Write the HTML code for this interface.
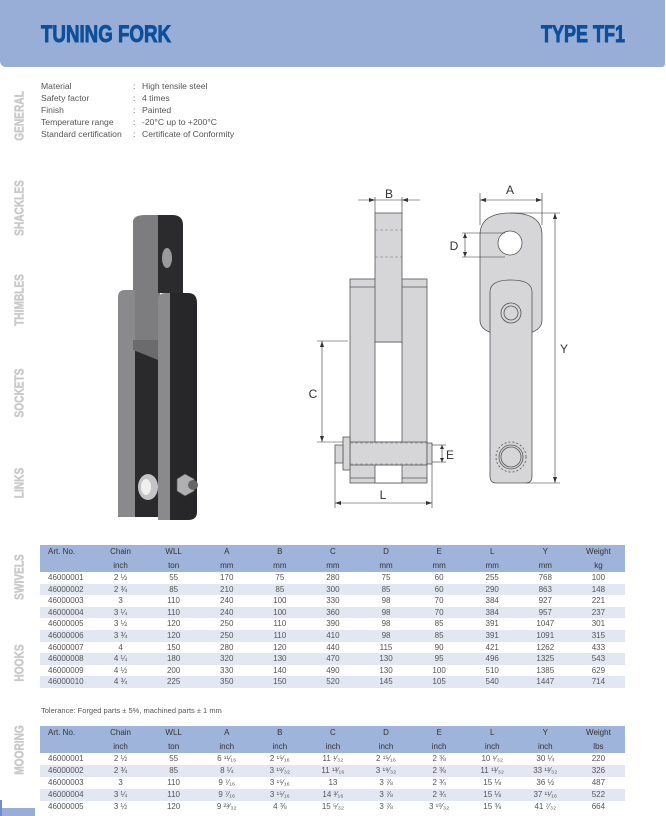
<!DOCTYPE html>
<html><head><meta charset="utf-8"><style>
*{margin:0;padding:0;box-sizing:border-box}
body{width:666px;height:816px;overflow:hidden;background:#fff;font-family:"Liberation Sans",sans-serif;position:relative;color:#444}
.hdr{position:absolute;left:0;top:0;width:665px;height:67px;background:#98aed7;border-bottom-left-radius:6px;border-bottom-right-radius:3px}
.t1{position:absolute;font-family:"Liberation Sans",sans-serif;font-weight:bold;color:#0d4f9a;font-size:24px;transform-origin:left top;-webkit-text-stroke:0.9px #0d4f9a;white-space:nowrap}
.side{position:absolute;left:19px;font-family:"Liberation Sans",sans-serif;font-weight:bold;color:#c9c9c9;font-size:13px;transform:translate(-50%,-50%) rotate(-90deg) scaleX(0.78);white-space:nowrap;-webkit-text-stroke:0.5px #c9c9c9}
.spec{position:absolute;left:41px;top:80px;font-size:8.6px;line-height:12px;color:#555}
.spec div{position:relative;height:12px;width:300px}
.spec span{position:absolute;white-space:nowrap}
table{position:absolute;left:40px;width:585px;border-collapse:collapse;font-size:8px;color:#555;table-layout:fixed}
th{background:#9fb4db;color:#333;font-weight:normal;height:13.5px;line-height:13.5px;text-align:center;padding:0}
td{text-align:center;padding:0;line-height:11.6px;height:11.6px}
td:first-child,th:first-child{text-align:left;padding-left:8px}
tr.a td{background:#e2e7f3}
.t2 td{line-height:12px;height:12px}
</style></head><body>
<div class="hdr"></div>
<div class="t1" style="left:41px;top:21px;transform:scaleX(0.78)">TUNING FORK</div>
<div class="t1" style="left:541px;top:21px;transform:scaleX(0.75)">TYPE TF1</div>

<div class="side" style="top:116px">GENERAL</div>
<div class="side" style="top:208px">SHACKLES</div>
<div class="side" style="top:300px">THIMBLES</div>
<div class="side" style="top:393px">SOCKETS</div>
<div class="side" style="top:483px">LINKS</div>
<div class="side" style="top:577px">SWIVELS</div>
<div class="side" style="top:663px">HOOKS</div>
<div class="side" style="top:750px">MOORING</div>
<div style="position:absolute;left:0;top:808px;width:35px;height:8px;background:#98aed7"></div>
<div style="position:absolute;left:0;top:800px;width:2px;height:16px;background:#6f8fc8"></div>

<div class="spec">
<div><span>Material</span><span style="left:92px">:</span><span style="left:101px">High tensile steel</span></div>
<div><span>Safety factor</span><span style="left:92px">:</span><span style="left:101px">4 times</span></div>
<div><span>Finish</span><span style="left:92px">:</span><span style="left:101px">Painted</span></div>
<div><span>Temperature range</span><span style="left:92px">:</span><span style="left:101px">-20°C up to +200°C</span></div>
<div><span>Standard certification</span><span style="left:92px">:</span><span style="left:101px">Certificate of Conformity</span></div>
</div>

<svg style="position:absolute;left:0;top:0" width="666" height="540">
<g>
<path d="M133 222 Q133 215 145 215 L160 215 L160 357 L133 357 Z" fill="#7d7d80"/>
<path d="M158 215 L172 215 Q183 215 183 225 L183 293 L158 293 Z" fill="#2b2b2e"/>
<ellipse cx="167" cy="258" rx="5" ry="10" fill="#9a9a9a"/>
<path d="M118 297 Q118 290 125 290 L135 290 L135 517 L118 517 Z" fill="#8a8a8d"/>
<rect x="135" y="345" width="23" height="172" fill="#2a2a2c"/>
<path d="M133 340 L158 340 L158 360 Q146 355 133 350 Z" fill="#6b6b6e"/>
<path d="M158 300 Q158 293 166 293 L170 293 L170 520 L158 520 Z" fill="#8a8a8d"/>
<path d="M170 293 L188 293 Q197 293 197 303 L197 512 Q197 520 188 520 L170 520 Z" fill="#27272a"/>
<ellipse cx="148" cy="487" rx="10" ry="13" fill="#c4c4c6"/>
<ellipse cx="146" cy="487" rx="5" ry="8" fill="#f0f0f0"/>
<polygon points="177,479 185,474 194,479 194,491 185,496 177,491" fill="#b0b0b3" stroke="#555" stroke-width="0.7"/>
<circle cx="193" cy="485" r="5" fill="#666"/>
</g>
<g stroke="#555" stroke-width="0.8" fill="#d6d6d8">
<rect x="350" y="279" width="77" height="204"/>
<rect x="375" y="342" width="27" height="100" fill="#fff"/>
<rect x="375" y="465" width="27" height="18" fill="#fff"/>
<rect x="375" y="213" width="27" height="129"/>
<line x1="350" y1="287" x2="375" y2="287"/><line x1="402" y1="287" x2="427" y2="287"/>
<line x1="350" y1="478" x2="375" y2="478"/><line x1="402" y1="478" x2="427" y2="478"/>
<rect x="350" y="442" width="77" height="23"/>
<rect x="343" y="437" width="7" height="33"/>
<rect x="427" y="443" width="5" height="21"/>
<rect x="335" y="445" width="8" height="18"/>
</g>
<g stroke="#777" stroke-width="0.6" stroke-dasharray="3,2" fill="none">
<line x1="375" y1="230" x2="402" y2="230"/><line x1="375" y1="257" x2="402" y2="257"/>
<line x1="350" y1="443" x2="427" y2="443"/><line x1="350" y1="464" x2="427" y2="464"/>
<path d="M491 330 Q511 342 532 330"/>
</g>
<g stroke="#555" stroke-width="0.8" fill="#d6d6d8">
<path d="M480 235 Q480 213 511 213 Q542 213 542 235 L542 320 Q542 335 511 335 Q480 335 480 320 Z"/>
<path d="M490 292 Q490 280 511 280 Q532 280 532 292 L532 476 Q532 483 526 483 L496 483 Q490 483 490 476 Z"/>
<circle cx="510" cy="243" r="12" fill="#fff"/>
<circle cx="511" cy="313" r="10"/><circle cx="511" cy="313" r="7"/>
<circle cx="511" cy="457" r="15" fill="none" stroke-dasharray="2,2"/>
<circle cx="511" cy="457" r="12"/><circle cx="511" cy="457" r="10"/>
</g>
<g stroke="#333" stroke-width="0.6" fill="none">
<line x1="358" y1="200" x2="420" y2="200"/><line x1="375" y1="197" x2="375" y2="213"/><line x1="402" y1="197" x2="402" y2="213"/>
<line x1="480" y1="200" x2="542" y2="200"/><line x1="480" y1="193" x2="480" y2="225"/><line x1="542" y1="193" x2="542" y2="225"/>
<line x1="465" y1="233" x2="465" y2="257"/><line x1="462" y1="233" x2="505" y2="233"/><line x1="462" y1="257" x2="505" y2="257"/>
<line x1="555" y1="213" x2="555" y2="483"/><line x1="511" y1="213" x2="560" y2="213"/><line x1="526" y1="483" x2="560" y2="483"/>
<line x1="322" y1="341" x2="322" y2="442"/><line x1="317" y1="341" x2="348" y2="341"/><line x1="317" y1="442" x2="343" y2="442"/>
<line x1="442" y1="445" x2="442" y2="462"/><line x1="432" y1="445" x2="446" y2="445"/><line x1="432" y1="462" x2="446" y2="462"/>
<line x1="335" y1="503" x2="432" y2="503"/><line x1="335" y1="463" x2="335" y2="508"/><line x1="432" y1="464" x2="432" y2="508"/>
</g>
<g fill="#333">
<polygon points="375,200 369,198 369,202"/><polygon points="402,200 408,198 408,202"/>
<polygon points="480,200 486,198 486,202"/><polygon points="542,200 536,198 536,202"/>
<polygon points="555,213 553,219 557,219"/><polygon points="555,483 553,477 557,477"/>
<polygon points="322,341 320,347 324,347"/><polygon points="322,442 320,436 324,436"/>
<polygon points="335,503 341,501 341,505"/><polygon points="432,503 426,501 426,505"/>
<polygon points="465,233 463,238 467,238"/><polygon points="465,257 463,252 467,252"/>
<polygon points="442,445 440,449 444,449"/><polygon points="442,462 440,458 444,458"/>
</g>
<g font-family="Liberation Sans" font-size="12" fill="#333" text-anchor="middle">
<text x="389" y="198">B</text><text x="510" y="194">A</text><text x="454" y="250">D</text>
<text x="564" y="353">Y</text><text x="313" y="398">C</text><text x="450" y="459">E</text><text x="383" y="499">L</text>
</g>
</svg>

<table style="top:545px">
<colgroup><col style="width:54px"><col span="10" style="width:53.1px"></colgroup>
<tr><th>Art. No.</th><th>Chain</th><th>WLL</th><th>A</th><th>B</th><th>C</th><th>D</th><th>E</th><th>L</th><th>Y</th><th>Weight</th></tr>
<tr><th></th><th>inch</th><th>ton</th><th>mm</th><th>mm</th><th>mm</th><th>mm</th><th>mm</th><th>mm</th><th>mm</th><th>kg</th></tr>
<tr><td>46000001</td><td>2 ½</td><td>55</td><td>170</td><td>75</td><td>280</td><td>75</td><td>60</td><td>255</td><td>768</td><td>100</td></tr>
<tr class="a"><td>46000002</td><td>2 ¾</td><td>85</td><td>210</td><td>85</td><td>300</td><td>85</td><td>60</td><td>290</td><td>863</td><td>148</td></tr>
<tr><td>46000003</td><td>3</td><td>110</td><td>240</td><td>100</td><td>330</td><td>98</td><td>70</td><td>384</td><td>927</td><td>221</td></tr>
<tr class="a"><td>46000004</td><td>3 ¼</td><td>110</td><td>240</td><td>100</td><td>360</td><td>98</td><td>70</td><td>384</td><td>957</td><td>237</td></tr>
<tr><td>46000005</td><td>3 ½</td><td>120</td><td>250</td><td>110</td><td>390</td><td>98</td><td>85</td><td>391</td><td>1047</td><td>301</td></tr>
<tr class="a"><td>46000006</td><td>3 ¾</td><td>120</td><td>250</td><td>110</td><td>410</td><td>98</td><td>85</td><td>391</td><td>1091</td><td>315</td></tr>
<tr><td>46000007</td><td>4</td><td>150</td><td>280</td><td>120</td><td>440</td><td>115</td><td>90</td><td>421</td><td>1262</td><td>433</td></tr>
<tr class="a"><td>46000008</td><td>4 ¼</td><td>180</td><td>320</td><td>130</td><td>470</td><td>130</td><td>95</td><td>496</td><td>1325</td><td>543</td></tr>
<tr><td>46000009</td><td>4 ½</td><td>200</td><td>330</td><td>140</td><td>490</td><td>130</td><td>100</td><td>510</td><td>1385</td><td>629</td></tr>
<tr class="a"><td>46000010</td><td>4 ¾</td><td>225</td><td>350</td><td>150</td><td>520</td><td>145</td><td>105</td><td>540</td><td>1447</td><td>714</td></tr>
</table>
<div style="position:absolute;left:41px;top:706px;font-size:7.5px;color:#555">Tolerance: Forged parts ± 5%, machined parts ± 1 mm</div>

<table class="t2" style="top:726px">
<colgroup><col style="width:54px"><col span="10" style="width:53.1px"></colgroup>
<tr><th>Art. No.</th><th>Chain</th><th>WLL</th><th>A</th><th>B</th><th>C</th><th>D</th><th>E</th><th>L</th><th>Y</th><th>Weight</th></tr>
<tr><th></th><th>inch</th><th>ton</th><th>inch</th><th>inch</th><th>inch</th><th>inch</th><th>inch</th><th>inch</th><th>inch</th><th>lbs</th></tr>
<tr><td>46000001</td><td>2 ½</td><td>55</td><td>6 ¹¹⁄₁₆</td><td>2 ¹⁵⁄₁₆</td><td>11 ¹⁄₃₂</td><td>2 ¹⁵⁄₁₆</td><td>2 ⅜</td><td>10 ¹⁄₃₂</td><td>30 ¼</td><td>220</td></tr>
<tr class="a"><td>46000002</td><td>2 ¾</td><td>85</td><td>8 ¼</td><td>3 ¹⁹⁄₃₂</td><td>11 ¹³⁄₁₆</td><td>3 ¹⁹⁄₃₂</td><td>2 ⅜</td><td>11 ¹³⁄₃₂</td><td>33 ¹³⁄₃₂</td><td>326</td></tr>
<tr><td>46000003</td><td>3</td><td>110</td><td>9 ⁷⁄₁₆</td><td>3 ¹⁵⁄₁₆</td><td>13</td><td>3 ⅞</td><td>2 ¾</td><td>15 ⅛</td><td>36 ½</td><td>487</td></tr>
<tr class="a"><td>46000004</td><td>3 ¼</td><td>110</td><td>9 ⁷⁄₁₆</td><td>3 ¹⁵⁄₁₆</td><td>14 ³⁄₁₆</td><td>3 ⅞</td><td>2 ¾</td><td>15 ⅛</td><td>37 ¹¹⁄₁₆</td><td>522</td></tr>
<tr><td>46000005</td><td>3 ½</td><td>120</td><td>9 ²³⁄₃₂</td><td>4 ⅜</td><td>15 ⁵⁄₃₂</td><td>3 ⅞</td><td>3 ¹⁰⁄₃₂</td><td>15 ⅜</td><td>41 ⁷⁄₃₂</td><td>664</td></tr>
</table>
</body></html>
